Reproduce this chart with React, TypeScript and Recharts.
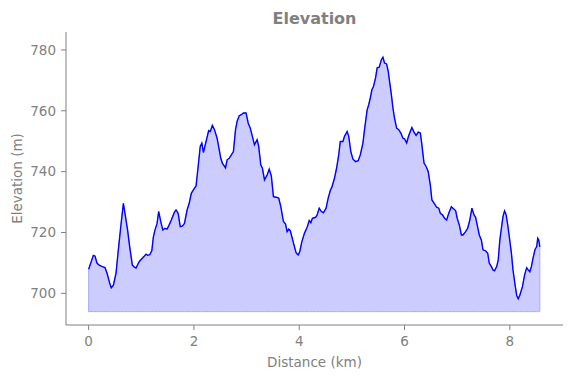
import React from 'react';
import { ComposedChart, Area, Line, XAxis, YAxis, ReferenceLine, Customized } from 'recharts';

const distanceKm = [
  0.0, 0.09, 0.12, 0.16, 0.2, 0.23, 0.26, 0.31, 0.35, 0.4, 0.43, 0.47, 0.52, 0.57, 0.61, 0.66, 0.69, 0.74, 0.78, 0.83,
  0.87, 0.9, 0.96, 1.0, 1.06, 1.09, 1.12, 1.16, 1.2, 1.23, 1.26, 1.3, 1.33, 1.37, 1.41, 1.45, 1.49, 1.53, 1.57, 1.63,
  1.66, 1.7, 1.74, 1.78, 1.82, 1.87, 1.91, 1.95, 1.99, 2.04, 2.08, 2.12, 2.15, 2.18, 2.23, 2.28, 2.31, 2.35, 2.39, 2.44,
  2.48, 2.51, 2.54, 2.6, 2.63, 2.67, 2.71, 2.75, 2.79, 2.82, 2.86, 2.9, 2.94, 2.99, 3.03, 3.07, 3.11, 3.15, 3.2, 3.23,
  3.27, 3.3, 3.34, 3.39, 3.43, 3.47, 3.51, 3.56, 3.61, 3.65, 3.7, 3.74, 3.77, 3.8, 3.83, 3.86, 3.91, 3.94, 3.98, 4.01,
  4.05, 4.1, 4.15, 4.19, 4.22, 4.25, 4.31, 4.34, 4.38, 4.42, 4.46, 4.51, 4.55, 4.59, 4.62, 4.67, 4.71, 4.75, 4.78, 4.83,
  4.86, 4.91, 4.94, 4.98, 5.02, 5.07, 5.12, 5.16, 5.21, 5.24, 5.29, 5.32, 5.35, 5.38, 5.41, 5.45, 5.48, 5.52, 5.56, 5.59,
  5.62, 5.66, 5.69, 5.72, 5.75, 5.78, 5.81, 5.85, 5.89, 5.93, 5.97, 6.0, 6.04, 6.08, 6.11, 6.14, 6.18, 6.22, 6.26, 6.3,
  6.33, 6.37, 6.41, 6.45, 6.49, 6.52, 6.57, 6.61, 6.65, 6.68, 6.72, 6.76, 6.8, 6.84, 6.89, 6.92, 6.97, 7.0, 7.04, 7.08,
  7.11, 7.16, 7.2, 7.24, 7.28, 7.32, 7.35, 7.38, 7.42, 7.46, 7.49, 7.54, 7.58, 7.61, 7.65, 7.68, 7.71, 7.75, 7.78, 7.81,
  7.84, 7.87, 7.9, 7.93, 7.96, 7.99, 8.03, 8.06, 8.1, 8.13, 8.16, 8.19, 8.24, 8.28, 8.32, 8.35, 8.38, 8.41, 8.44, 8.48,
  8.51, 8.53, 8.55, 8.57,
];

const elevationM = [
  707.9, 712.5, 712.3, 709.9, 709.3, 709.0, 708.8, 708.5, 706.6, 703.3, 701.8, 702.7, 706.6, 715.3, 721.9, 729.6, 726.3, 720.8, 715.3, 709.3,
  708.6, 708.3, 710.4, 711.2, 712.3, 712.9, 712.5, 712.7, 714.0, 718.6, 720.8, 723.0, 726.9, 723.6, 720.8, 721.4, 721.1, 722.5, 724.1, 726.7,
  727.4, 726.3, 721.9, 722.1, 723.0, 727.4, 729.6, 732.9, 734.0, 735.3, 741.7, 748.3, 749.4, 746.3, 749.9, 753.5, 753.2, 755.2, 753.8, 751.0,
  747.2, 744.4, 742.8, 741.2, 743.9, 744.4, 745.5, 746.6, 753.8, 756.5, 758.4, 758.7, 759.3, 759.3, 756.0, 754.3, 751.6, 748.8, 750.5, 748.3,
  742.2, 741.2, 737.3, 738.9, 740.8, 738.6, 731.8, 731.6, 731.3, 728.5, 723.6, 722.8, 720.3, 721.1, 720.6, 718.6, 715.3, 713.4, 712.6, 713.7,
  717.0, 719.8, 721.7, 723.9, 723.2, 724.7, 725.0, 725.8, 728.0, 726.9, 726.5, 728.0, 731.3, 733.8, 734.9, 737.9, 741.2, 745.5, 749.9, 749.9,
  751.6, 753.2, 751.6, 746.6, 744.1, 743.3, 743.6, 745.5, 749.4, 753.8, 760.3, 762.0, 764.2, 766.9, 768.0, 770.8, 774.1, 774.3, 776.8, 777.6,
  775.7, 775.4, 773.0, 769.1, 765.3, 760.9, 757.6, 754.3, 753.8, 752.7, 751.0, 750.8, 749.4, 751.9, 753.2, 754.5, 753.0, 751.9, 753.0, 752.7,
  748.8, 742.8, 741.7, 740.0, 735.6, 730.7, 729.4, 728.3, 728.0, 726.3, 725.8, 724.7, 724.1, 726.3, 728.5, 728.0, 727.2, 724.7, 722.5, 719.2,
  719.2, 720.3, 721.4, 724.1, 728.0, 725.8, 725.0, 722.5, 719.2, 717.5, 714.3, 714.0, 713.2, 709.9, 708.8, 707.7, 707.4, 708.8, 711.0, 717.5,
  721.4, 725.2, 727.1, 725.8, 722.5, 718.6, 713.2, 707.7, 702.7, 699.4, 698.2, 699.4, 702.2, 706.0, 708.4, 707.7, 707.1, 708.8, 711.5, 714.5,
  715.3, 718.1, 717.5, 715.3,
];

const fillBase = 694;
const xTicks = [0, 2, 4, 6, 8];
const yTicks = [700, 720, 740, 760, 780];
const xDomain = [-0.43, 9.01];
const yDomain = [689.6, 785.9];

const data = distanceKm.map((d, i) => ({
  d,
  elev: elevationM[i],
  band: [fillBase, elevationM[i]],
}));

const GRAY = '#808080';
const FONT = 'DejaVu Sans';

const first = data[0];
const last = data[data.length - 1];

export default function App() {
  return (
    <div style={{ position: 'absolute', left: 0, top: 0 }}>
      <ComposedChart
        width={571}
        height={378}
        data={data}
        margin={{ top: 32, right: 8, bottom: 0, left: 0 }}
      >
        <Customized
          component={() => (
            <text
              x={314.5}
              y={24}
              textAnchor="middle"
              fill={GRAY}
              fontFamily={FONT}
              fontSize={16}
              fontWeight="bold"
            >
              Elevation
            </text>
          )}
        />
        <XAxis
          type="number"
          dataKey="d"
          domain={xDomain}
          ticks={xTicks}
          allowDataOverflow
          height={53}
          stroke={GRAY}
          tickSize={5}
          tickMargin={6}
          tick={{ fill: GRAY, fontFamily: FONT, fontSize: 13.5 }}
          tickLine={{ stroke: GRAY }}
          axisLine={{ stroke: GRAY }}
          label={{
            value: 'Distance (km)',
            position: 'center',
            dy: 11,
            fill: GRAY,
            fontFamily: FONT,
            fontSize: 13.5,
          }}
        />
        <YAxis
          type="number"
          domain={yDomain}
          ticks={yTicks}
          allowDataOverflow
          width={66}
          stroke={GRAY}
          tickSize={5}
          tickMargin={5}
          tick={{ fill: GRAY, fontFamily: FONT, fontSize: 13.5 }}
          tickLine={{ stroke: GRAY }}
          axisLine={{ stroke: GRAY }}
          label={{
            value: 'Elevation (m)',
            position: 'center',
            angle: -90,
            dx: -16,
            fill: GRAY,
            fontFamily: FONT,
            fontSize: 13.5,
          }}
        />
        <Area
          dataKey="band"
          type="linear"
          stroke="#a8a8ff"
          strokeWidth={1}
          fill="#ccccff"
          fillOpacity={1}
          isAnimationActive={false}
          dot={false}
          activeDot={false}
        />
        <ReferenceLine
          segment={[{ x: first.d, y: fillBase }, { x: first.d, y: first.elev }]}
          stroke="#a8a8ff"
          strokeWidth={1}
        />
        <ReferenceLine
          segment={[{ x: last.d, y: fillBase }, { x: last.d, y: last.elev }]}
          stroke="#a8a8ff"
          strokeWidth={1}
        />
        <Line
          dataKey="elev"
          type="linear"
          stroke="#0000ff"
          strokeWidth={1.4}
          dot={false}
          activeDot={false}
          isAnimationActive={false}
        />
      </ComposedChart>
    </div>
  );
}
